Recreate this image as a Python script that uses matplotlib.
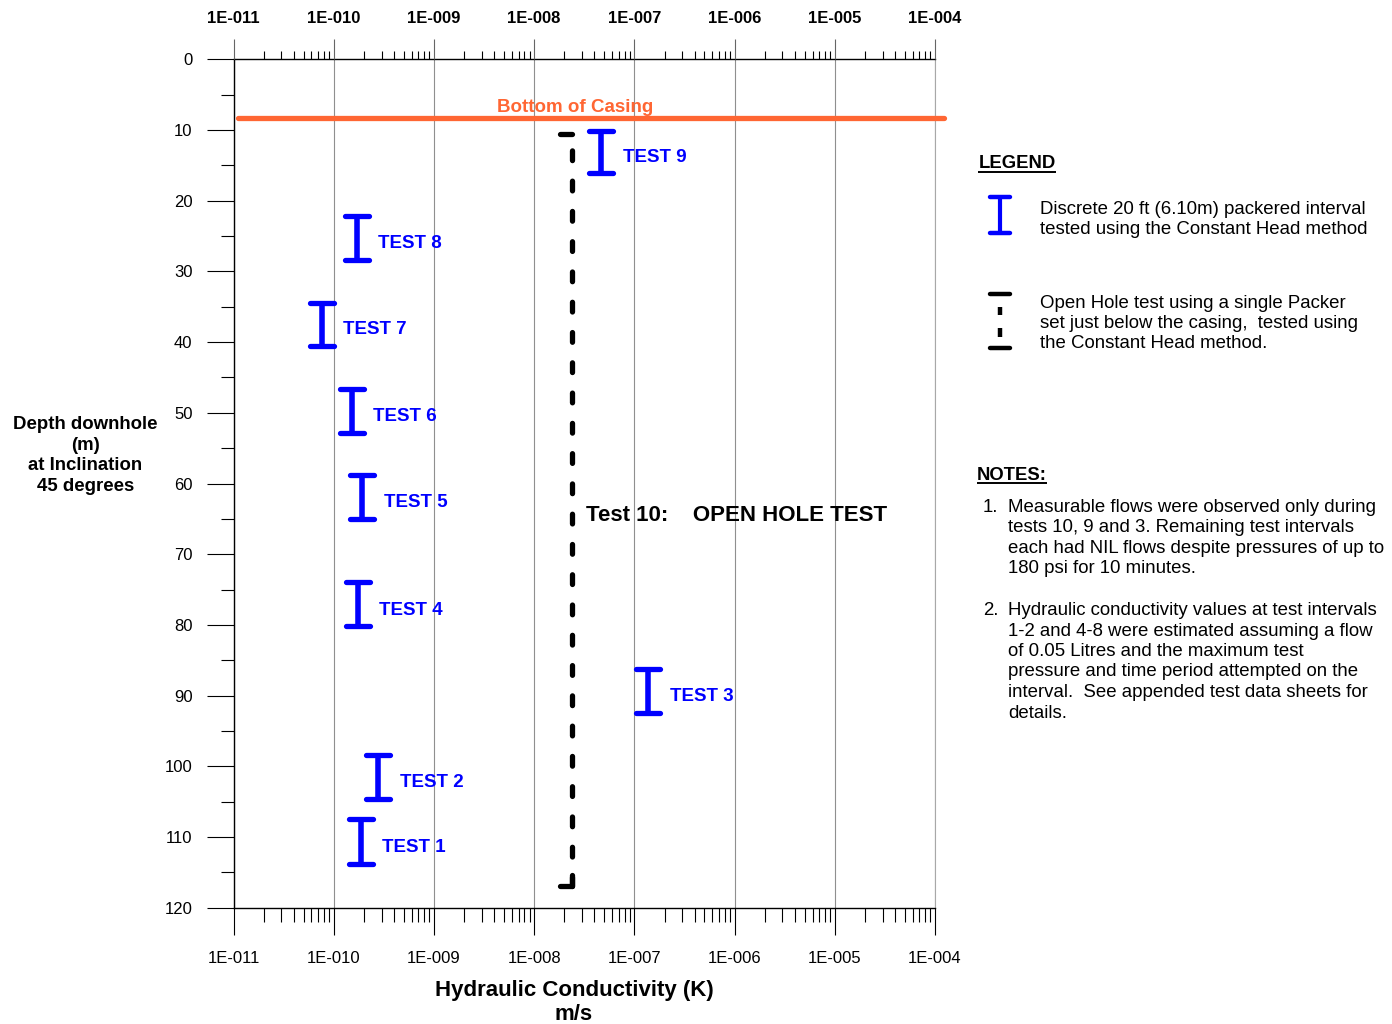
import matplotlib
matplotlib.use("Agg")
import matplotlib.pyplot as plt
from matplotlib.lines import Line2D
from matplotlib.markers import MarkerStyle
from matplotlib.path import Path
from matplotlib.ticker import NullFormatter

plt.rcParams['font.family'] = ['Liberation Sans', 'DejaVu Sans']
plt.rcParams['lines.scale_dashes'] = False

# ---- data -------------------------------------------------------------
# Discrete packered interval tests (K in m/s, depths in m downhole)
test_names = ["TEST 1", "TEST 2", "TEST 3", "TEST 4", "TEST 5",
              "TEST 6", "TEST 7", "TEST 8", "TEST 9"]
test_k = [1.86e-10, 2.79e-10, 1.38e-7, 1.74e-10, 1.93e-10,
          1.51e-10, 7.6e-11, 1.70e-10, 4.66e-8]
test_top = [107.5, 98.4, 86.3, 74.0, 58.8, 46.6, 34.4, 22.1, 10.1]
test_bottom = [113.8, 104.6, 92.4, 80.2, 65.0, 52.8, 40.5, 28.4, 16.1]

# Open hole test (single packer below casing)
open_hole_name = "Test 10:    OPEN HOLE TEST"
open_hole_k = 2.37e-8
open_hole_top = 10.6
open_hole_bottom = 117.0

casing_depth = 8.3
casing_label = "Bottom of Casing"

k_ticks = [1e-11, 1e-10, 1e-9, 1e-8, 1e-7, 1e-6, 1e-5, 1e-4]
k_tick_labels = ["1E-011", "1E-010", "1E-009", "1E-008",
                 "1E-007", "1E-006", "1E-005", "1E-004"]
k_minor_ticks = [m * d for d in k_ticks[:-1] for m in range(2, 10)]
depth_ticks = list(range(0, 121, 10))
depth_minor_ticks = list(range(5, 120, 10))

legend_lines_1 = ["Discrete 20 ft (6.10m) packered interval",
                  "tested using the Constant Head method"]
legend_lines_2 = ["Open Hole test using a single Packer",
                  "set just below the casing,  tested using",
                  "the Constant Head method."]
note_1 = ["Measurable flows were observed only during",
          "tests 10, 9 and 3. Remaining test intervals",
          "each had NIL flows despite pressures of up to",
          "180 psi for 10 minutes."]
note_2 = ["Hydraulic conductivity values at test intervals",
          "1-2 and 4-8 were estimated assuming a flow",
          "of 0.05 Litres and the maximum test",
          "pressure and time period attempted on the",
          "interval.  See appended test data sheets for",
          "details."]

BLUE = "#0000FF"
ORANGE = "#FF6633"
W, H = 1392, 1024

fig = plt.figure(figsize=(W / 100, H / 100), dpi=100)


def fx(x):
    return x / W


def fy(y):
    return 1 - y / H


ax = fig.add_axes([fx(233.5), fy(907.7), fx(935) - fx(233.5), fy(59.3) - fy(907.7)])
ax.set_xscale('log')
ax.set_xlim(k_ticks[0], k_ticks[-1])
ax.set_ylim(120, 0)

for s in ['left', 'top', 'bottom']:
    ax.spines[s].set_color('black')
    ax.spines[s].set_linewidth(1.0)
ax.spines['right'].set_color('#a8a8a8')
ax.spines['right'].set_linewidth(0.8)

# bottom axis
ax.set_xticks(k_ticks, k_tick_labels)
ax.set_xticks(k_minor_ticks, minor=True)
ax.xaxis.set_minor_formatter(NullFormatter())
ax.tick_params(axis='x', which='major', direction='out', length=19.5, width=0.8,
               color='black', pad=12, labelsize=12, top=False, bottom=True)
ax.tick_params(axis='x', which='minor', direction='out', length=10, width=0.8,
               color='black', top=False, bottom=True)
ax.grid(axis='x', which='major', color='#8f8f8f', linewidth=0.8)

# depth axis
ax.set_yticks(depth_ticks)
ax.set_yticks(depth_minor_ticks, minor=True)
ax.tick_params(axis='y', which='major', direction='out', length=19.5, width=0.8,
               color='black', pad=10, labelsize=12)
ax.tick_params(axis='y', which='minor', direction='out', length=9.4, width=0.8,
               color='black')

# top axis
axt = ax.twiny()
axt.set_xscale('log')
axt.set_xlim(ax.get_xlim())
axt.set_xticks(k_ticks, k_tick_labels, fontweight='bold')
axt.set_xticks(k_minor_ticks, minor=True)
axt.xaxis.set_minor_formatter(NullFormatter())
axt.tick_params(axis='x', which='major', direction='out', length=14.5, width=0.8,
                color='#666666', pad=9.5, labelsize=12)
axt.tick_params(axis='x', which='minor', direction='out', length=5.8, width=0.8,
                color='black')
for s in axt.spines.values():
    s.set_visible(False)

# bottom of casing
ax.axhline(casing_depth, xmin=0.007, xmax=1.0135, color=ORANGE, lw=3.8,
           solid_capstyle='round', clip_on=False, zorder=4)
ax.annotate(casing_label, xy=(0.4868, casing_depth),
            xycoords=('axes fraction', 'data'), xytext=(0, 4),
            textcoords='offset points', ha='center', va='baseline',
            color=ORANGE, fontsize=13.5, fontweight='bold')

# packered interval tests
cap = MarkerStyle('_', capstyle='round')
for name, k, top, bot in zip(test_names, test_k, test_top, test_bottom):
    ax.plot([k, k], [top, bot], color=BLUE, lw=4.0, solid_capstyle='butt', zorder=5)
    ax.plot([k, k], [top, bot], ls='none', marker=cap, ms=17, mew=3.8,
            color=BLUE, zorder=5)
    ax.annotate(name, xy=(k, (top + bot) / 2), xytext=(15.5, -7.5),
                textcoords='offset points', ha='left', va='baseline',
                color=BLUE, fontsize=13.5, fontweight='bold')

# open hole test
ax.plot([open_hole_k, open_hole_k], [open_hole_top, open_hole_bottom],
        color='black', lw=3.8, linestyle=(10.0, (7.0, 14.8)),
        dash_capstyle='round', zorder=5)
half_cap = MarkerStyle(Path([(-1, 0), (0, 0)]), capstyle='round', joinstyle='miter')
corner = MarkerStyle(Path([(-1, 0), (0, 0), (0, 0.9)]), capstyle='round',
                     joinstyle='miter')
ax.plot([open_hole_k], [open_hole_top], ls='none', marker=half_cap, ms=18,
        mew=3.8, mec='black', mfc='none', zorder=5)
ax.plot([open_hole_k], [open_hole_bottom], ls='none', marker=corner, ms=18,
        mew=3.8, mec='black', mfc='none', zorder=5)
ax.annotate(open_hole_name, xy=(open_hole_k, (open_hole_top + open_hole_bottom) / 2),
            xytext=(10.3, -7.5), textcoords='offset points', ha='left',
            va='baseline', color='black', fontsize=16, fontweight='bold')

# axis titles
for txt, yb in zip(["Depth downhole", "(m)", "at Inclination", "45 degrees"],
                   [429, 450, 470, 491]):
    fig.text(fx(85.5), fy(yb), txt, ha='center', va='baseline',
             fontsize=13.4, fontweight='bold')
fig.text(fx(574), fy(996), "Hydraulic Conductivity (K)", ha='center',
         va='baseline', fontsize=16, fontweight='bold')
fig.text(fx(574), fy(1020), "m/s", ha='center', va='baseline',
         fontsize=16, fontweight='bold')


def seg(xs, ys, **kw):
    fig.add_artist(Line2D([fx(x) for x in xs], [fy(y) for y in ys],
                          transform=fig.transFigure, **kw))


# legend panel
head_legend = fig.text(fx(978.3), fy(168.3), "LEGEND", ha='left', va='baseline',
                       fontsize=13.3, fontweight='bold')
seg([1000, 1000], [196.7, 232.7], color=BLUE, lw=3.0, solid_capstyle='butt')
seg([990, 1009.7], [196.7, 196.7], color=BLUE, lw=3.2, solid_capstyle='round')
seg([990, 1009.7], [232.7, 232.7], color=BLUE, lw=3.2, solid_capstyle='round')
for i, line in enumerate(legend_lines_1):
    fig.text(fx(1040), fy(214 + 20 * i), line, ha='left', va='baseline', fontsize=13.4)

seg([990, 1009.7], [294, 294], color='black', lw=3.2, solid_capstyle='round')
seg([990, 1009.7], [348.3, 348.3], color='black', lw=3.2, solid_capstyle='round')
seg([1000, 1000], [306.7, 315], color='black', lw=3.2, solid_capstyle='butt')
seg([1000, 1000], [328.3, 336.7], color='black', lw=3.2, solid_capstyle='butt')
for i, line in enumerate(legend_lines_2):
    fig.text(fx(1040), fy(308.3 + 20 * i), line, ha='left', va='baseline', fontsize=13.4)

# notes panel
head_notes = fig.text(fx(976.7), fy(480), "NOTES:", ha='left', va='baseline',
                      fontsize=13.3, fontweight='bold')
fig.text(fx(983), fy(512), "1.", ha='left', va='baseline', fontsize=13.4)
for i, line in enumerate(note_1):
    fig.text(fx(1008), fy(512 + 20.4 * i), line, ha='left', va='baseline', fontsize=13.4)
fig.text(fx(983), fy(615), "2.", ha='left', va='baseline', fontsize=13.4)
for i, line in enumerate(note_2):
    fig.text(fx(1008), fy(615 + 20.5 * i), line, ha='left', va='baseline', fontsize=13.4)

# underline the panel headings
fig.canvas.draw()
renderer = fig.canvas.get_renderer()
for t, y_ul in [(head_legend, 171.7), (head_notes, 483.0)]:
    bb = t.get_window_extent(renderer)
    seg([bb.x0, bb.x1], [y_ul, y_ul], color='black', lw=1.4, solid_capstyle='butt')

fig.savefig("out.png", dpi=100)
